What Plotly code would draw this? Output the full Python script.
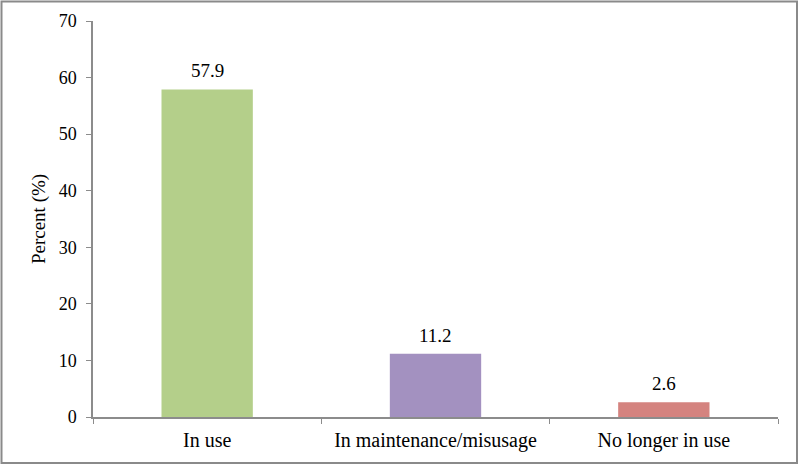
import plotly.graph_objects as go

categories = ["In use", "In maintenance/misusage", "No longer in use"]
values = [57.9, 11.2, 2.6]
labels = ["57.9", "11.2", "2.6"]
colors = ["#b4cf8a", "#a391c0", "#d4837f"]
y_ticks = [0, 10, 20, 30, 40, 50, 60, 70]

L, R, T, B = 93, 22, 21, 49
W, H = 800, 466
pw, ph = W - L - R, H - T - B
FONT = "Liberation Serif"

fig = go.Figure(go.Bar(
    x=categories, y=values, width=0.4,
    marker=dict(color=colors, line=dict(width=0)),
    hoverinfo="x+y",
))

annotations = [
    dict(x=c, y=v, xref="x", yref="y", text=t, showarrow=False,
         yanchor="bottom", yshift=6, font=dict(family=FONT, size=19, color="#000"))
    for c, v, t in zip(categories, values, labels)
]

fig.update_layout(
    width=W, height=H,
    margin=dict(l=L, r=R, t=T, b=B),
    paper_bgcolor="white", plot_bgcolor="white",
    showlegend=False,
    font=dict(family=FONT, size=18, color="#000"),
    xaxis=dict(
        showline=True, linecolor="#8c8c8c", linewidth=1.5,
        ticks="outside", tickson="boundaries", ticklen=5, tickcolor="#8c8c8c",
        showgrid=False, tickfont=dict(family=FONT, size=20, color="#000"),
        ticklabelstandoff=4,
    ),
    yaxis=dict(
        range=[0, 70], tickvals=y_ticks, showline=True, linecolor="#8c8c8c", linewidth=1.5,
        ticks="outside", ticklen=5, tickcolor="#8c8c8c", showgrid=False, zeroline=False,
        tickfont=dict(family=FONT, size=18, color="#000"), ticklabelstandoff=6,
        title=dict(text="Percent (%)", font=dict(family=FONT, size=19, color="#000"), standoff=8),
    ),
    annotations=annotations,
    shapes=[dict(
        type="rect", xref="paper", yref="paper",
        x0=(1.5 - L) / pw, x1=(W - 3 - L) / pw,
        y0=-(H - 3 - T - ph) / ph, y1=(ph + T - 1.5) / ph,
        line=dict(color="#8a8a8a", width=2),
    )],
)

fig.write_html("out.html", config={"displayModeBar": False},
               post_script="document.body.style.margin='0';")
